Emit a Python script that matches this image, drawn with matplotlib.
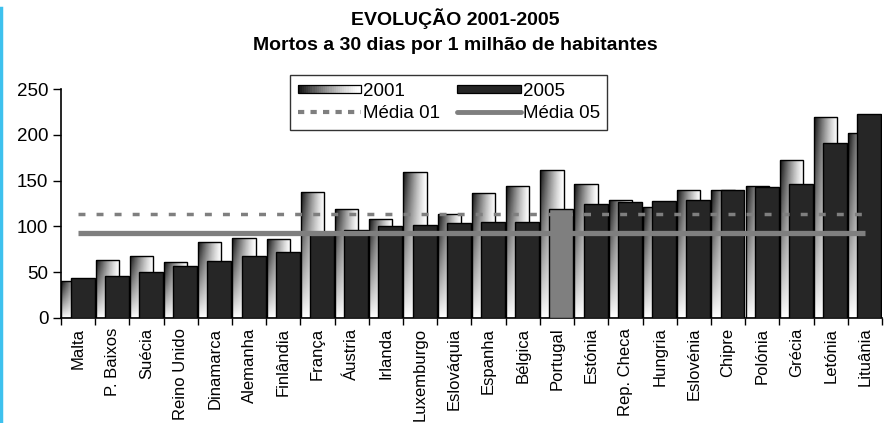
import numpy as np
import matplotlib
matplotlib.use("Agg")
import matplotlib.pyplot as plt
from matplotlib.colors import LinearSegmentedColormap
from matplotlib.patches import Rectangle
from matplotlib.lines import Line2D
from matplotlib.legend_handler import HandlerBase

plt.rcParams['font.family'] = ['Liberation Sans', 'DejaVu Sans']

# data
countries = ["Malta", "P. Baixos", "Suécia", "Reino Unido", "Dinamarca", "Alemanha",
             "Finlândia", "França", "Áustria", "Irlanda", "Luxemburgo", "Eslováquia",
             "Espanha", "Bélgica", "Portugal", "Estónia", "Rep. Checa", "Hungria",
             "Eslovénia", "Chipre", "Polónia", "Grécia", "Letónia", "Lituânia"]
deaths_2001 = [40, 63, 68, 61, 83, 87, 86, 138, 119, 108, 159, 113,
               137, 144, 162, 146, 129, 121, 140, 140, 144, 173, 219, 202]
deaths_2005 = [44, 46, 50, 57, 62, 68, 72, 92, 96, 100, 101, 104,
               105, 105, 119, 125, 127, 128, 129, 140, 143, 146, 191, 223]
mean_01 = 113
mean_05 = 93
highlight = "Portugal"

DARK = '#262626'
GREY = '#7f7f7f'
grad_cmap = LinearSegmentedColormap.from_list('g', ['#ffffff', '#111111'])


def gradient(nx=40, ny=60):
    xf = np.linspace(0, 1, nx)[None, :]
    yf = np.linspace(1, 0, ny)[:, None]  # top row = 1
    return (1 - xf) ** 1.3 * yf ** 0.9


class GradientHandler(HandlerBase):
    def create_artists(self, legend, orig_handle, xdescent, ydescent,
                       width, height, fontsize, trans):
        arts = []
        n = 30
        for i in range(n):
            c = grad_cmap((1 - i / (n - 1)) ** 1.3)
            arts.append(Rectangle((-xdescent + width * i / n, -ydescent + height * 0.2),
                                  width / n + 0.3, height * 0.6, facecolor=c,
                                  edgecolor='none', transform=trans))
        arts.append(Rectangle((-xdescent, -ydescent + height * 0.2), width, height * 0.6,
                              facecolor='none', edgecolor='black', lw=0.9, transform=trans))
        return arts


class DarkHandler(HandlerBase):
    def create_artists(self, legend, orig_handle, xdescent, ydescent,
                       width, height, fontsize, trans):
        return [Rectangle((-xdescent, -ydescent + height * 0.2), width, height * 0.6,
                          facecolor=DARK, edgecolor='black', lw=0.9, transform=trans)]


fig = plt.figure(figsize=(8.91, 4.23), dpi=100)
ax = fig.add_axes([61 / 891, 1 - 318 / 423, 821 / 891, 229 / 423])

x = np.arange(len(countries))
w01, off01 = 0.68, -0.15
w05, off05 = 0.70, 0.13

bars01 = ax.bar(x + off01, deaths_2001, w01, facecolor='none', edgecolor='black',
                lw=1.0, zorder=3)
g = gradient()
for b in bars01:
    x0, h = b.get_x(), b.get_height()
    im = ax.imshow(g, cmap=grad_cmap, vmin=0, vmax=1, aspect='auto',
                   extent=(x0, x0 + b.get_width(), 0, h), origin='upper',
                   interpolation='bilinear', zorder=2)
    im.set_clip_path(b)

colors05 = [GREY if c == highlight else DARK for c in countries]
ax.bar(x + off05, deaths_2005, w05, color=colors05, edgecolor='black', lw=1.0, zorder=4)

ax.plot([x[0], x[-1]], [mean_01, mean_01], color=GREY, lw=2.5, ls=(0, (2.0, 3.2)),
        zorder=5)
ax.plot([x[0], x[-1]], [mean_05, mean_05], color=GREY, lw=3.8, solid_capstyle='butt',
        zorder=5)

ax.set_xlim(-0.5, len(countries) - 0.5)
ax.set_ylim(0, 250)
ax.set_yticks(range(0, 251, 50))
ax.tick_params(axis='y', labelsize=13.5, length=6, width=1, direction='out', pad=3)
ax.set_xticks(x)
ax.set_xticklabels(countries, rotation=90, fontsize=12)
ax.tick_params(axis='x', length=0, pad=7)
ax.set_xticks(np.arange(len(countries) + 1) - 0.5, minor=True)
ax.tick_params(axis='x', which='minor', length=5, width=1, direction='out')
for s in ['top', 'right']:
    ax.spines[s].set_visible(False)
ax.spines['left'].set_linewidth(1.2)
ax.spines['bottom'].set_linewidth(1.2)

h_2001 = Rectangle((0, 0), 1, 1)
h_2005 = Rectangle((0, 0), 1, 1, facecolor=DARK)
h_m01 = Line2D([], [], color=GREY, lw=3, ls=(0, (1.5, 1.5)))
h_m05 = Line2D([], [], color=GREY, lw=3.5, solid_capstyle='round')
leg = ax.legend([h_2001, h_m01, h_2005, h_m05], ["2001", "Média 01", "2005", "Média 05"],
                ncol=2, loc='upper left', bbox_to_anchor=(0.279, 1.061),
                handler_map={h_2001: GradientHandler(), h_2005: DarkHandler()},
                fontsize=13.5, frameon=True, fancybox=False, edgecolor='black',
                handlelength=3.4, handletextpad=0.1, columnspacing=0.9,
                labelspacing=0.3, borderpad=0.4, borderaxespad=0)
leg.get_frame().set_linewidth(1.0)
leg.set_zorder(10)

fig.text(455 / 891, 1 - 19 / 423, "EVOLUÇÃO 2001-2005", ha='center', va='center',
         fontsize=14, fontweight='bold')
fig.text(455 / 891, 1 - 45 / 423, "Mortos a 30 dias por 1 milhão de habitantes",
         ha='center', va='center', fontsize=14, fontweight='bold')

fig.add_artist(Line2D([1 / 891, 1 / 891], [0, 1 - 8 / 423], color='#3ec1ee', lw=2.5,
                      transform=fig.transFigure))

fig.savefig("out.png", dpi=100)
